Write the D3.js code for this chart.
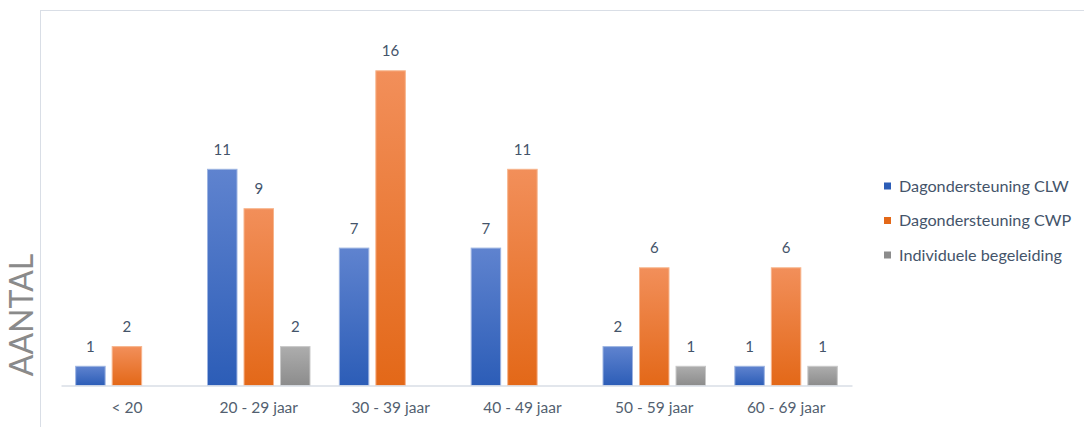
<!DOCTYPE html>
<html>
<head>
<meta charset="utf-8">
<script src="https://cdn.jsdelivr.net/npm/d3@7/dist/d3.min.js"></script>
<style>
  html, body { margin: 0; padding: 0; background: #ffffff; }
  svg { display: block; }
  text { font-family: Lato, "Open Sans", sans-serif; }
</style>
</head>
<body>
<svg id="chart" width="1084" height="427"></svg>
<script>
const categories = ["< 20", "20 - 29 jaar", "30 - 39 jaar", "40 - 49 jaar", "50 - 59 jaar", "60 - 69 jaar"];
const seriesNames = ["Dagondersteuning CLW", "Dagondersteuning CWP", "Individuele begeleiding"];
const valuesCLW = [1, 11, 7, 7, 2, 1];
const valuesCWP = [2, 9, 16, 11, 6, 6];
const valuesInd = [null, 2, null, null, 1, 1];
const yAxisTitle = "AANTAL";

const seriesValues = [valuesCLW, valuesCWP, valuesInd];
const colors = [
  { top: "#5F83CF", bottom: "#2C5DB7", stroke: "#9DB4E2" },
  { top: "#F28F5A", bottom: "#E36818", stroke: "#F7B48C" },
  { top: "#ADADAD", bottom: "#8C8C8C", stroke: "#C8C8C8" }
];

const svg = d3.select("#chart");
const defs = svg.append("defs");
colors.forEach((c, i) => {
  const g = defs.append("linearGradient").attr("id", "grad" + i)
    .attr("x1", 0).attr("y1", 0).attr("x2", 0).attr("y2", 1);
  g.append("stop").attr("offset", "0%").attr("stop-color", c.top);
  g.append("stop").attr("offset", "100%").attr("stop-color", c.bottom);
});

// chart frame
svg.append("rect").attr("x", 40.5).attr("y", 10.5).attr("width", 1100).attr("height", 500)
  .attr("fill", "none").attr("stroke", "#D9DEE6").attr("stroke-width", 1);

const x0 = d3.scaleBand().domain(categories).range([61, 852]).paddingInner(0.215).paddingOuter(0.1075);
const x1 = d3.scaleBand().domain(d3.range(seriesNames.length)).range([0, x0.bandwidth()]).paddingInner(0.165).paddingOuter(0);
const y = d3.scaleLinear().domain([0, 16]).range([385.5, 70.3]);

const groups = svg.append("g").selectAll("g").data(categories).join("g")
  .attr("transform", d => `translate(${x0(d)},0)`);

groups.each(function(cat, ci) {
  const g = d3.select(this);
  seriesValues.forEach((vals, si) => {
    const v = vals[ci];
    if (v == null) return;
    g.append("rect")
      .attr("x", x1(si) + 0.5)
      .attr("y", y(v) + 0.5)
      .attr("width", x1.bandwidth() - 1)
      .attr("height", y(0) - y(v) - 0.5)
      .attr("fill", `url(#grad${si})`)
      .attr("stroke", colors[si].stroke)
      .attr("stroke-width", 1);
    g.append("text")
      .attr("x", x1(si) + x1.bandwidth() / 2)
      .attr("y", y(v) - 14)
      .attr("text-anchor", "middle")
      .attr("font-size", 15)
      .attr("fill", "#44546A")
      .text(v);
  });
});

// x axis
const xAxis = d3.axisBottom(x0).tickSize(0).tickPadding(16);
const ax = svg.append("g").attr("transform", `translate(0,${y(0)})`).call(xAxis);
ax.select(".domain").attr("stroke", "#D9DEE6").attr("stroke-width", 1.5);
ax.selectAll("text").attr("font-size", 15.5).attr("fill", "#535F70")
  .attr("font-family", "Lato, 'Open Sans', sans-serif");

// y axis title
svg.append("text")
  .attr("transform", `translate(33,315) rotate(-90)`)
  .attr("text-anchor", "middle")
  .attr("font-size", 32)
  .attr("font-weight", 400)
  .attr("fill", "#8A8A8A")
  .text(yAxisTitle);

// legend
const legend = svg.append("g").selectAll("g").data(seriesNames).join("g")
  .attr("transform", (d, i) => `translate(884,${186 + i * 34.5})`);
legend.append("rect").attr("x", 0).attr("y", -3.5).attr("width", 7).attr("height", 7)
  .attr("fill", (d, i) => colors[i].bottom);
legend.append("text").attr("x", 15).attr("y", 0).attr("dy", "0.35em")
  .attr("font-size", 16.2).attr("fill", "#44546A").text(d => d);
</script>
</body>
</html>
